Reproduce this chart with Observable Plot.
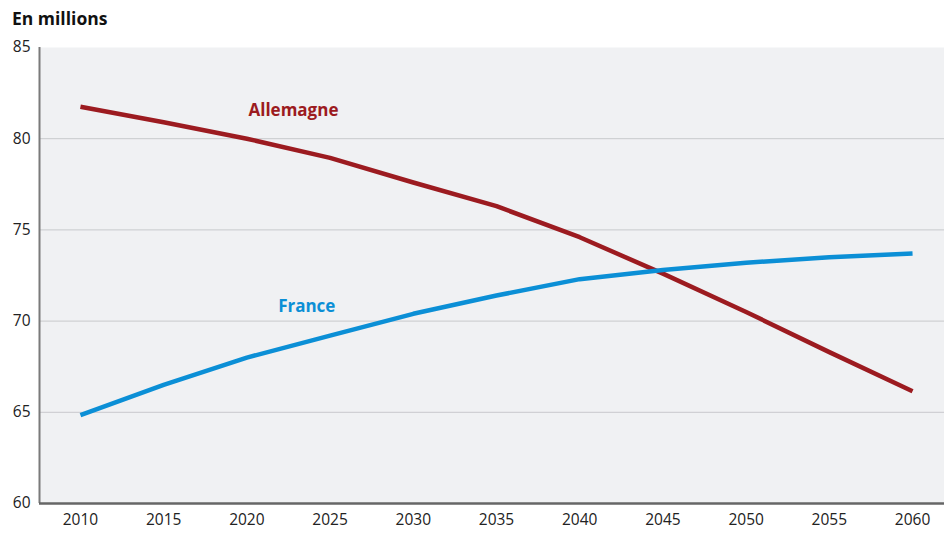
<!DOCTYPE html>
<html><head><meta charset="utf-8">
<script src="https://cdn.jsdelivr.net/npm/d3@7"></script>
<script src="https://cdn.jsdelivr.net/npm/@observablehq/plot@0.6"></script>
<style>
body{margin:0;background:#fff;font-family:"Open Sans",sans-serif;}
#title{height:36px;box-sizing:border-box;padding:6px 0 0 12px;font-weight:bold;font-size:17.5px;color:#111;}
</style></head><body>
<div id="title">En millions</div>
<div id="chart"></div>
<script>
const years = [2010,2015,2020,2025,2030,2035,2040,2045,2050,2055,2060];
const allemagne = [81.75,80.9,80.0,78.95,77.6,76.3,74.6,72.6,70.5,68.3,66.15];
const france = [64.85,66.5,68.0,69.2,70.4,71.4,72.3,72.8,73.2,73.5,73.7];
const seriesNames = ["Allemagne","France"];
const seriesColors = ["#9c1b20","#0b8fd6"];
const labelYears = [2022.8,2023.6];
const labelValues = [81.55,70.8];
const yTicks = [60,65,70,75,80,85];

const data = [];
years.forEach((y,i)=>{
  data.push({year:y,value:allemagne[i],s:seriesNames[0]});
  data.push({year:y,value:france[i],s:seriesNames[1]});
});
const labels = seriesNames.map((n,i)=>({name:n,x:labelYears[i],y:labelValues[i],c:seriesColors[i]}));

const chart = Plot.plot({
  width:944, height:497,
  marginLeft:39, marginRight:0, marginTop:11, marginBottom:30,
  style:{fontFamily:"'Open Sans',sans-serif",fontSize:"15.5px",color:"#222",background:"transparent"},
  x:{domain:[2007.54,2061.92], ticks:years, tickFormat:d=>String(d), tickSize:0, tickPadding:10, label:null},
  y:{domain:[60,85], ticks:yTicks, tickSize:0, tickPadding:9, label:null},
  color:{domain:seriesNames, range:seriesColors},
  marks:[
    Plot.frame({fill:"#f0f1f3", stroke:null}),
    Plot.ruleY(yTicks.filter(t=>t>60 && t<85), {stroke:"#c8c9cc", strokeWidth:1}),
    Plot.axisX({ticks:years, tickFormat:d=>String(d), tickSize:0, tickPadding:10, fontSize:15.5}),
    Plot.axisY({ticks:yTicks, tickSize:0, tickPadding:9, fontSize:15.5}),
    Plot.line(data,{x:"year",y:"value",stroke:"s",strokeWidth:4.5,strokeLinecap:"butt",strokeLinejoin:"round"}),
    Plot.ruleX([2007.54],{stroke:"#7a7a7a",strokeWidth:2}),
    Plot.ruleY([60],{stroke:"#666",strokeWidth:2.5}),
    Plot.text(labels,{x:"x",y:"y",text:"name",fill:"c",fontWeight:"bold",fontSize:17})
  ]
});
document.getElementById("chart").appendChild(chart);
</script>
</body></html>
